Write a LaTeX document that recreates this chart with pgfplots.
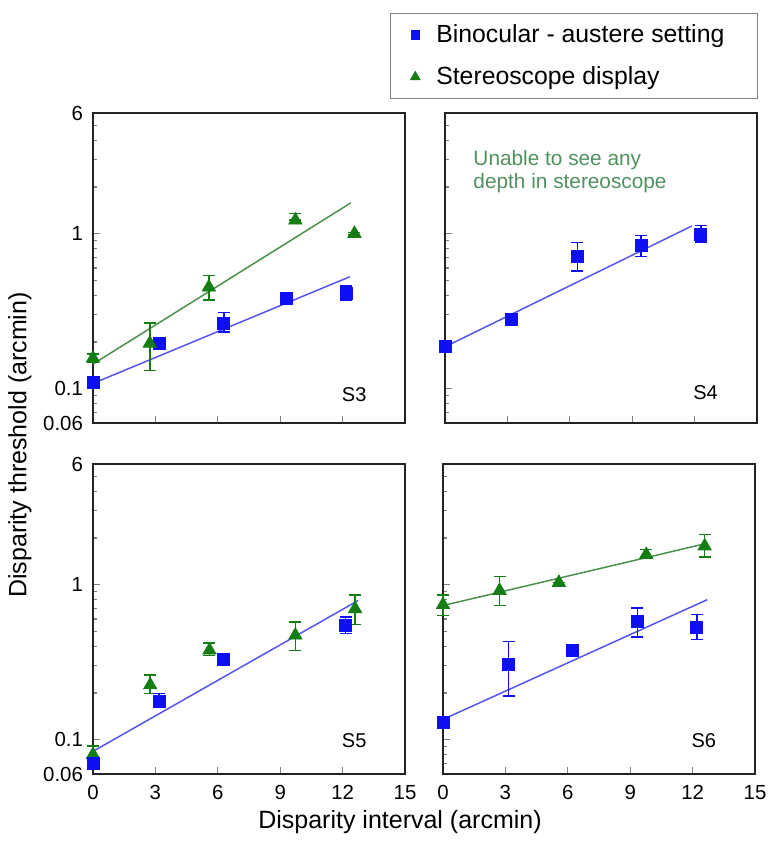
\documentclass[border=0pt]{standalone}
\usepackage{fontspec}
\setmainfont{Liberation Sans}
\usepackage{pgfplots}
\pgfplotsset{compat=1.18}
\definecolor{mblue}{RGB}{15,15,245}
\definecolor{lblue}{RGB}{85,85,240}
\definecolor{mgreen}{RGB}{20,125,20}
\definecolor{lgreen}{RGB}{75,145,75}
\definecolor{tgreen}{RGB}{80,145,95}
\definecolor{frm}{RGB}{35,35,35}
\pgfplotsset{
 every axis/.append style={
  scale only axis, width=156pt, height=155pt, anchor=south west,
  xmin=0, xmax=15, ymin=0.06, ymax=6,
  xtick={0,3,6,9,12,15}, ytick={0.06,0.1,1,6},
  minor ytick={0.07,0.08,0.09,0.2,0.3,0.4,0.5,0.6,0.7,0.8,0.9,2,3,4,5},
  yticklabels={0.06,0.1,1,6},
  xtick pos=bottom, ytick pos=left, tick align=inside,
  major tick length=3.5pt, minor tick length=2pt,
  axis line style={frm, line width=1pt},
  every tick/.style={gray, line width=0.6pt},
  tick label style={font=\fontsize{10.2}{12}\selectfont},
  yticklabel style={xshift=-1.5pt},
  xticklabel style={yshift=-2pt},
  /pgf/number format/assume math mode=true,
  clip=false,
 },
 mySq/.style={only marks, mark=square*, mark size=3pt, color=mblue,
   error bars/y dir=both, error bars/y explicit,
   error bars/error bar style={mblue, line width=0.75pt},
   error bars/error mark options={rotate=90, mark size=3pt, line width=0.75pt, mblue}},
 myTri/.style={only marks, mark=triangle*, mark size=3.8pt, color=mgreen,
   error bars/y dir=both, error bars/y explicit,
   error bars/error bar style={mgreen, line width=0.75pt},
   error bars/error mark options={rotate=90, mark size=3pt, line width=0.75pt, mgreen}},
 myBline/.style={no marks, lblue, line width=0.75pt},
 myGline/.style={no marks, lgreen, line width=0.75pt},
}
\begin{document}
\begin{tikzpicture}
\useasboundingbox (0,0) rectangle (386.5pt,422pt);
% ---------- S3 (top left)
\begin{semilogyaxis}[at={(46.5pt,210.5pt)}, xticklabels={},
  legend style={at={(2.131,1.3226)}, anchor=north east, draw=gray, line width=0.6pt,
    font=\fontsize{12.4}{14}\selectfont, row sep=6.5pt, inner ysep=3.5pt},
  legend cell align=left,
  legend image code/.code={\path[draw=none,fill=none] (-9.5pt,0pt) -- (8.5pt,0pt); \draw[#1] plot coordinates {(0pt,0pt)};}]
\addlegendimage{only marks, mark=square*, mark size=2pt, mblue}
\addlegendentry{\makebox[155.5pt][l]{Binocular - austere setting}}
\addlegendimage{only marks, mark=triangle*, mark size=2.6pt, mgreen}
\addlegendentry{\makebox[155.5pt][l]{Stereoscope display}}
\addplot[myBline, forget plot] coordinates {(0,0.108) (12.35,0.527)};
\addplot[myGline, forget plot] coordinates {(0,0.144) (12.4,1.58)};
\addplot[forget plot, mySq] coordinates {
 (0,0.109) +- (0,0)
 (3.18,0.196) +- (0,0)
 (6.29,0.262) += (0,0.048) -= (0,0.030)
 (9.31,0.384) +- (0,0)
 (12.17,0.409) += (0,0.051) -= (0,0.039)
};
\addplot[forget plot, myTri] coordinates {
 (0,0.157) += (0,0.01) -= (0,0.01)
 (2.73,0.196) += (0,0.07) -= (0,0.065)
 (5.57,0.451) += (0,0.086) -= (0,0.077)
 (9.73,1.22) += (0,0.13) -= (0,0.0)
 (12.57,1.0) += (0,0.02) -= (0,0.02)
};
\node[font=\fontsize{10}{12}\selectfont] at (rel axis cs:0.837,0.09) {S3};
\end{semilogyaxis}
% ---------- S4 (top right)
\begin{semilogyaxis}[at={(222.5pt,210.5pt)}, xticklabels={}, yticklabels={}]
\addplot[myBline] coordinates {(0,0.186) (11.87,1.12)};
\addplot[mySq] coordinates {
 (0,0.188) +- (0,0)
 (3.2,0.279) +- (0,0)
 (6.36,0.717) += (0,0.156) -= (0,0.142)
 (9.43,0.835) += (0,0.135) -= (0,0.125)
 (12.3,0.99) += (0,0.14) -= (0,0.11)
};
\node[font=\fontsize{10}{12}\selectfont] at (rel axis cs:0.835,0.097) {S4};
\node[anchor=north west, align=left, text=tgreen, font=\fontsize{10.4}{11.5}\selectfont, inner sep=0pt]
  at (rel axis cs:0.09,0.88) {Unable to see any\\depth in stereoscope};
\end{semilogyaxis}
% ---------- S5 (bottom left)
\begin{semilogyaxis}[at={(46.5pt,35pt)}]
\addplot[myBline] coordinates {(0,0.084) (12.75,0.79)};
\addplot[myTri] coordinates {
 (0,0.080) += (0,0.011) -= (0,0.009)
 (2.75,0.225) += (0,0.036) -= (0,0.026)
 (5.6,0.377) += (0,0.044) -= (0,0.027)
 (9.73,0.471) += (0,0.102) -= (0,0.094)
 (12.6,0.698) += (0,0.161) -= (0,0.144)
};
\addplot[mySq] coordinates {
 (0,0.070) += (0,0.004) -= (0,0.005)
 (3.17,0.176) += (0,0.023) -= (0,0.013)
 (6.28,0.329) +- (0,0)
 (12.15,0.546) += (0,0.071) -= (0,0.063)
};
\node[font=\fontsize{10}{12}\selectfont] at (rel axis cs:0.837,0.109) {S5};
\end{semilogyaxis}
% ---------- S6 (bottom right)
\begin{semilogyaxis}[at={(221.5pt,35pt)}, yticklabels={}]
\addplot[myGline] coordinates {(0,0.733) (12.71,1.85)};
\addplot[myBline] coordinates {(0,0.135) (12.71,0.80)};
\addplot[myTri] coordinates {
 (0,0.741) += (0,0.119) -= (0,0.108)
 (2.72,0.915) += (0,0.215) -= (0,0.182)
 (5.57,1.03) +- (0,0)
 (9.77,1.56) += (0,0.13) -= (0,0.05)
 (12.58,1.77) += (0,0.34) -= (0,0.26)
};
\addplot[mySq] coordinates {
 (0,0.130) +- (0,0)
 (3.16,0.307) += (0,0.122) -= (0,0.116)
 (6.24,0.377) +- (0,0)
 (9.34,0.582) += (0,0.127) -= (0,0.123)
 (12.2,0.532) += (0,0.11) -= (0,0.09)
};
\node[font=\fontsize{10}{12}\selectfont] at (rel axis cs:0.836,0.107) {S6};
\end{semilogyaxis}
% axis titles
\node[rotate=90, font=\fontsize{12.5}{15}\selectfont] at (10pt,199.5pt) {Disparity threshold (arcmin)};
\node[font=\fontsize{12.5}{15}\selectfont] at (200pt,11pt) {Disparity interval (arcmin)};
\end{tikzpicture}
\end{document}
